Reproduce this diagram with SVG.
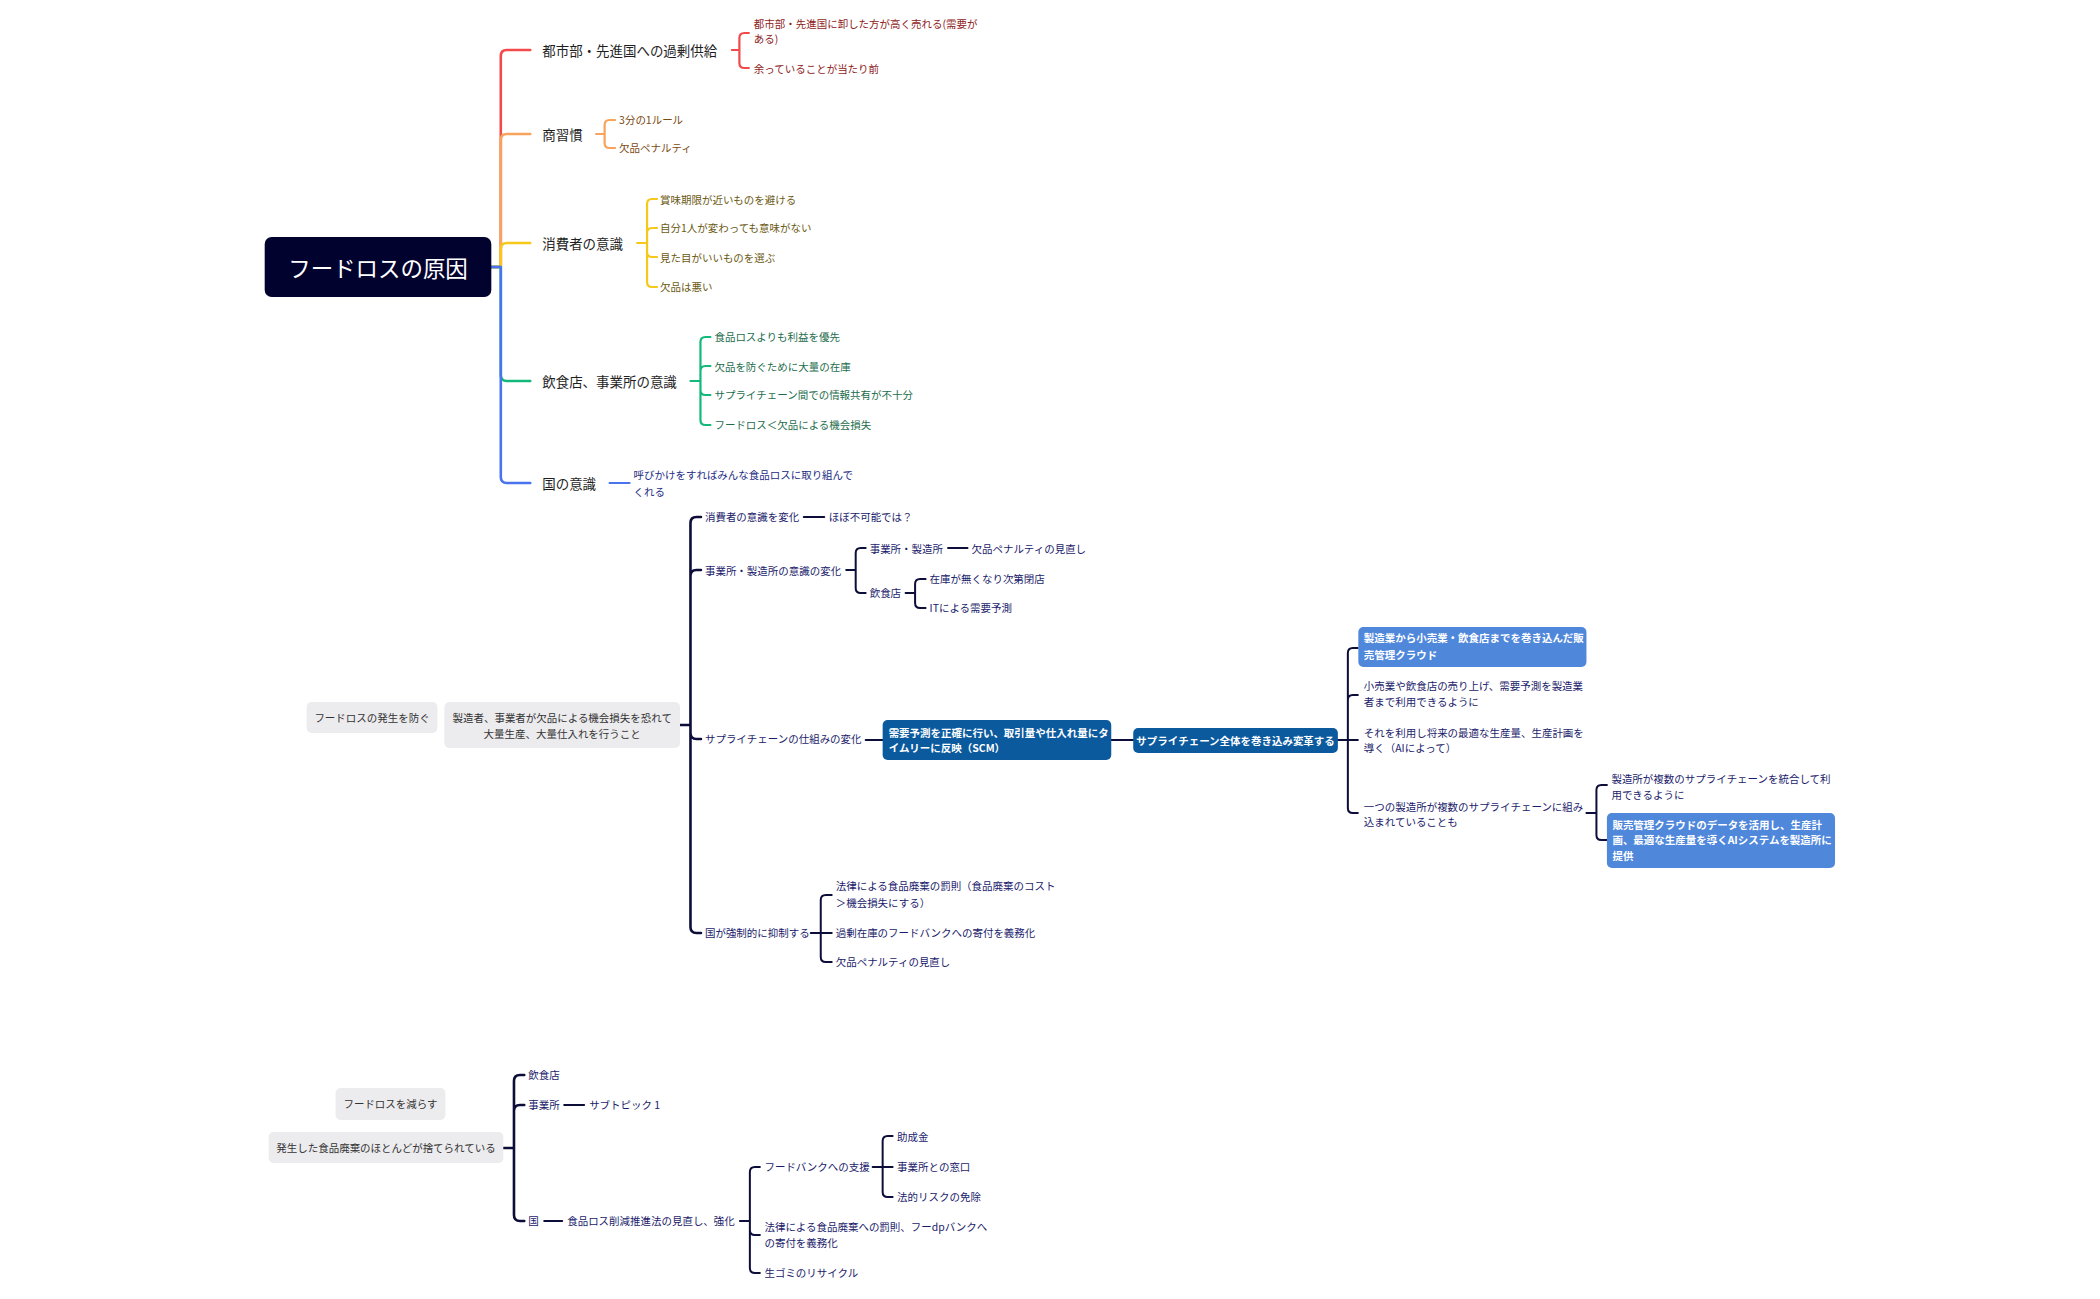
<svg xmlns="http://www.w3.org/2000/svg" width="2100" height="1299" viewBox="0 0 2100 1299">
<style>
text{font-family:"Noto Sans CJK JP","Liberation Sans",sans-serif;dominant-baseline:central}
.l{fill:none;stroke-linecap:round;stroke-linejoin:round}
.n{stroke:#0d0d3a;stroke-width:2}
.sp{stroke:#0d0d3a;stroke-width:2.6}
.b1{font-size:13.5px;fill:#1e1e1e}
.s1{font-size:10.5px}
.s2{font-size:10.5px;fill:#1b1b6b}
.g{fill:#ecebee}
.gt{font-size:10.5px;fill:#333;text-anchor:middle}
.db{fill:#0b5a9e}
.lb{fill:#4f87db}
.wt{font-size:10.5px;fill:#fff;font-weight:bold}
</style>
<rect width="2100" height="1299" fill="#fff"/>
<g transform="matrix(0.9983 0 0 1 -0.85 0)">
<g id="connectors">
<g stroke-width="2.6" class="l">
<path stroke="#f2494a" d="M493 267H502.5V56Q502.5 50 508.5 50H532"/>
<path stroke="#f7a35c" d="M493 267H502.5V140Q502.5 134 508.5 134H532"/>
<path stroke="#f6c819" d="M493 267H502.5V249Q502.5 243 508.5 243H532"/>
<path stroke="#13b87b" d="M493 267H502.5V375Q502.5 381 508.5 381H532"/>
<path stroke="#4a73f0" d="M493 267H502.5V477Q502.5 483 508.5 483H532"/>
</g>
<g stroke-width="2.2" class="l">
<path stroke="#f2494a" d="M734 50H741.5V38Q741.5 33 746.5 33H751M734 50H741.5V63Q741.5 68 746.5 68H751"/>
<path stroke="#f7a35c" d="M598 134H606.5V125Q606.5 120 611.5 120H617M598 134H606.5V143Q606.5 148 611.5 148H617"/>
<path stroke="#f6c819" d="M639 243H649V204Q649 199 654 199H659M639 243H649V233Q649 228 654 228H659M639 243H649V252Q649 257 654 257H659M639 243H649V282Q649 287 654 287H659"/>
<path stroke="#13b87b" d="M692.5 381H702.5V342Q702.5 337 707.5 337H712.5M692.5 381H702.5V371Q702.5 366 707.5 366H712.5M692.5 381H702.5V390Q702.5 395 707.5 395H712.5M692.5 381H702.5V420Q702.5 425 707.5 425H712.5"/>
<path stroke="#4a73f0" d="M611.5 483H631.5"/>
</g>
<path class="l sp" d="M682 725H692.5V523Q692.5 517 698.5 517H703M682 725H692.5V576Q692.5 570 698.5 570H703M682 725H692.5V733Q692.5 739 698.5 739H703M682 725H692.5V927Q692.5 933 698.5 933H703"/>
<path class="l n" d="M806 517H826.5"/>
<path class="l n" d="M848.5 570H858V553Q858 548 863 548H868M848.5 570H858V588Q858 593 863 593H868"/>
<path class="l n" d="M950.5 548H970"/>
<path class="l n" d="M908 593H917.5V584Q917.5 579 922.5 579H928M908 593H917.5V603Q917.5 608 922.5 608H928"/>
<path class="l n" d="M868 740H885M1114 740H1136"/>
<path class="l n" d="M1341 740H1351V653Q1351 648 1356 648H1361M1341 740H1351V700Q1351 695 1356 695H1361M1341 740H1361M1341 740H1351V808Q1351 813 1356 813H1361"/>
<path class="l n" d="M1590 813H1600V790Q1600 785 1605 785H1610.5M1590 813H1600V835Q1600 840 1605 840H1610.5"/>
<path class="l n" d="M813 933H823V900Q823 895 828 895H834M813 933H834M813 933H823V957Q823 962 828 962H834"/>
<path class="l sp" d="M505 1148H515.7V1081Q515.7 1075 521.7 1075H526M505 1148H515.7V1111Q515.7 1105 521.7 1105H526M505 1148H515.7V1215Q515.7 1221 521.7 1221H526"/>
<path class="l n" d="M566 1105H586M546 1221H564"/>
<path class="l n" d="M742 1221H752V1172Q752 1167 757 1167H762M742 1221H752V1230Q752 1235 757 1235H762M742 1221H752V1268Q752 1273 757 1273H762"/>
<path class="l n" d="M875 1167H885V1141Q885 1136 890 1136H895M875 1167H895M875 1167H885V1192Q885 1197 890 1197H895"/>
</g>
<g id="root"><rect x="266" y="237" width="227" height="60" rx="7" fill="#02022f"/><text x="379.5" y="267" font-size="22.5" fill="#fff" text-anchor="middle">フードロスの原因</text></g>
<g id="b-toshi"><text class="b1" x="544" y="50">都市部・先進国への過剰供給</text></g>
<g id="b-toshi-1"><text class="s1" fill="#8e1b1b" x="756" y="24">都市部・先進国に卸した方が高く売れる(需要が</text><text class="s1" fill="#8e1b1b" x="756" y="38.5">ある)</text></g>
<g id="b-toshi-2"><text class="s1" fill="#8e1b1b" x="756" y="69">余っていることが当たり前</text></g>
<g id="b-shou"><text class="b1" x="544" y="134">商習慣</text></g>
<g id="b-shou-1"><text class="s1" fill="#7b4a13" x="621" y="120">3分の1ルール</text></g>
<g id="b-shou-2"><text class="s1" fill="#7b4a13" x="621" y="148">欠品ペナルティ</text></g>
<g id="b-shohi"><text class="b1" x="544" y="243">消費者の意識</text></g>
<g id="b-shohi-1"><text class="s1" fill="#6b5a14" x="662" y="199">賞味期限が近いものを避ける</text></g>
<g id="b-shohi-2"><text class="s1" fill="#6b5a14" x="662" y="228">自分1人が変わっても意味がない</text></g>
<g id="b-shohi-3"><text class="s1" fill="#6b5a14" x="662" y="257">見た目がいいものを選ぶ</text></g>
<g id="b-shohi-4"><text class="s1" fill="#6b5a14" x="662" y="287">欠品は悪い</text></g>
<g id="b-inshoku"><text class="b1" x="544" y="381">飲食店、事業所の意識</text></g>
<g id="b-inshoku-1"><text class="s1" fill="#1d6d4c" x="716.5" y="337">食品ロスよりも利益を優先</text></g>
<g id="b-inshoku-2"><text class="s1" fill="#1d6d4c" x="716.5" y="366">欠品を防ぐために大量の在庫</text></g>
<g id="b-inshoku-3"><text class="s1" fill="#1d6d4c" x="716.5" y="395">サプライチェーン間での情報共有が不十分</text></g>
<g id="b-inshoku-4"><text class="s1" fill="#1d6d4c" x="716.5" y="425">フードロス＜欠品による機会損失</text></g>
<g id="b-kuni"><text class="b1" x="544" y="483">国の意識</text></g>
<g id="b-kuni-1"><text class="s1" fill="#232c84" x="635.5" y="474">呼びかけをすればみんな食品ロスに取り組んで</text><text class="s1" fill="#232c84" x="635.5" y="492">くれる</text></g>
<g id="prevent"><rect class="g" x="308" y="702" width="131" height="31" rx="5"/><text class="gt" x="373.5" y="717.5">フードロスの発生を防ぐ</text></g>
<g id="cause2"><rect class="g" x="446" y="702" width="236" height="46" rx="5"/><text class="gt" x="564" y="717">製造者、事業者が欠品による機会損失を恐れて</text><text class="gt" x="564" y="733">大量生産、大量仕入れを行うこと</text></g>
<g id="c2-1"><text class="s2" x="707" y="517">消費者の意識を変化</text></g>
<g id="c2-1a"><text class="s2" x="831" y="517">ほぼ不可能では？</text></g>
<g id="c2-2"><text class="s2" x="707" y="570">事業所・製造所の意識の変化</text></g>
<g id="c2-2a"><text class="s2" x="872" y="548">事業所・製造所</text></g>
<g id="c2-2a1"><text class="s2" x="974" y="548">欠品ペナルティの見直し</text></g>
<g id="c2-2b"><text class="s2" x="872" y="593">飲食店</text></g>
<g id="c2-2b1"><text class="s2" x="932" y="579">在庫が無くなり次第閉店</text></g>
<g id="c2-2b2"><text class="s2" x="932" y="608">ITによる需要予測</text></g>
<g id="c2-3"><text class="s2" x="707" y="739">サプライチェーンの仕組みの変化</text></g>
<g id="scm"><rect class="db" x="885" y="720" width="229" height="40" rx="5"/><text class="wt" x="891" y="732">需要予測を正確に行い、取引量や仕入れ量にタ</text><text class="wt" x="891" y="748">イムリーに反映（SCM）</text></g>
<g id="sc-all"><rect class="db" x="1136" y="728" width="205" height="25" rx="5"/><text class="wt" x="1238.5" y="740.5" text-anchor="middle">サプライチェーン全体を巻き込み変革する</text></g>
<g id="cloud"><rect class="lb" x="1361.5" y="627" width="228.5" height="40" rx="5"/><text class="wt" x="1367" y="638">製造業から小売業・飲食店までを巻き込んだ販</text><text class="wt" x="1367" y="655">売管理クラウド</text></g>
<g id="retail"><text class="s2" x="1367" y="686">小売業や飲食店の売り上げ、需要予測を製造業</text><text class="s2" x="1367" y="702">者まで利用できるように</text></g>
<g id="ai"><text class="s2" x="1367" y="732">それを利用し将来の最適な生産量、生産計画を</text><text class="s2" x="1367" y="748">導く（AIによって）</text></g>
<g id="multi"><text class="s2" x="1367" y="806">一つの製造所が複数のサプライチェーンに組み</text><text class="s2" x="1367" y="822">込まれていることも</text></g>
<g id="multi-1"><text class="s2" x="1615" y="779">製造所が複数のサプライチェーンを統合して利</text><text class="s2" x="1615" y="795">用できるように</text></g>
<g id="multi-2"><rect class="lb" x="1610.5" y="813" width="228.5" height="55" rx="5"/><text class="wt" x="1616" y="824">販売管理クラウドのデータを活用し、生産計</text><text class="wt" x="1616" y="840">画、最適な生産量を導くAIシステムを製造所に</text><text class="wt" x="1616" y="856">提供</text></g>
<g id="c2-4"><text class="s2" x="707" y="933">国が強制的に抑制する</text></g>
<g id="c2-4a"><text class="s2" x="838" y="886">法律による食品廃棄の罰則（食品廃棄のコスト</text><text class="s2" x="838" y="903">＞機会損失にする）</text></g>
<g id="c2-4b"><text class="s2" x="838" y="933">過剰在庫のフードバンクへの寄付を義務化</text></g>
<g id="c2-4c"><text class="s2" x="838" y="962">欠品ペナルティの見直し</text></g>
<g id="reduce"><rect class="g" x="337" y="1088" width="110" height="32" rx="5"/><text class="gt" x="392" y="1104">フードロスを減らす</text></g>
<g id="cause3"><rect class="g" x="270" y="1132" width="235" height="31" rx="5"/><text class="gt" x="387.5" y="1148">発生した食品廃棄のほとんどが捨てられている</text></g>
<g id="c3-1"><text class="s2" x="530" y="1075">飲食店</text></g>
<g id="c3-2"><text class="s2" x="530" y="1105">事業所</text></g>
<g id="c3-2a"><text class="s2" x="591" y="1105">サブトピック 1</text></g>
<g id="c3-3"><text class="s2" x="530" y="1221">国</text></g>
<g id="c3-3a"><text class="s2" x="569" y="1221">食品ロス削減推進法の見直し、強化</text></g>
<g id="c3-fb"><text class="s2" x="766.6" y="1167">フードバンクへの支援</text></g>
<g id="c3-fb1"><text class="s2" x="899.5" y="1136">助成金</text></g>
<g id="c3-fb2"><text class="s2" x="899.5" y="1167">事業所との窓口</text></g>
<g id="c3-fb3"><text class="s2" x="899.5" y="1197">法的リスクの免除</text></g>
<g id="c3-law"><text class="s2" x="766.6" y="1227">法律による食品廃棄への罰則、フーdpバンクへ</text><text class="s2" x="766.6" y="1243">の寄付を義務化</text></g>
<g id="c3-gomi"><text class="s2" x="766.6" y="1273">生ゴミのリサイクル</text></g>
</g>
</svg>
